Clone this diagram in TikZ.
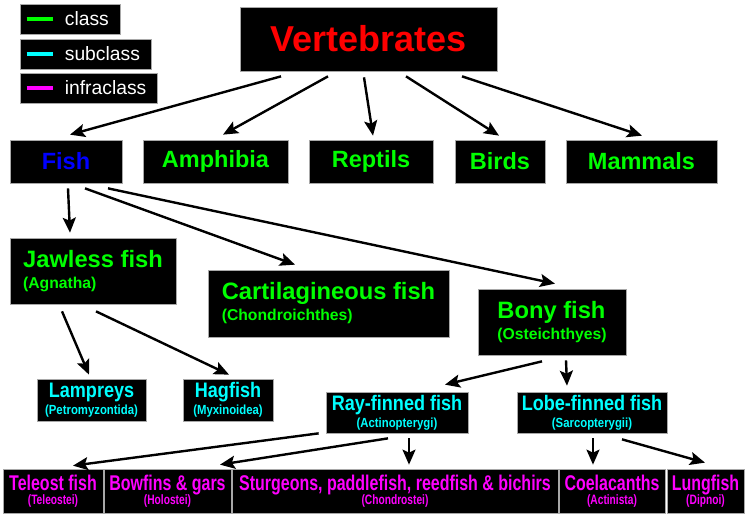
\documentclass[tikz,border=0pt]{standalone}
\usepackage{fontspec}
\setmainfont{Liberation Sans}
\newfontfamily\condA{Liberation Sans}[FakeStretch=0.86]
\newfontfamily\condB{Liberation Sans}[FakeStretch=0.75]
\usetikzlibrary{arrows.meta}
\definecolor{vertred}{HTML}{FF0000}
\definecolor{fishblue}{HTML}{0000FF}
\definecolor{classgreen}{HTML}{00FF00}
\definecolor{subcyan}{HTML}{00FFFF}
\definecolor{infrapink}{HTML}{FF00FF}
\definecolor{boxedge}{HTML}{A8A8A8}
\newcommand{\ordsci}{\fontsize{15.7}{21}\selectfont}
\newcommand{\subsci}{\fontsize{13.2}{17}\selectfont}
\newcommand{\infsci}{\fontsize{13.6}{14.5}\selectfont}

\begin{document}
\begin{tikzpicture}[x=1pt,y=-1pt,
  taxbox/.style={fill=black,draw=boxedge,line width=0.7pt,inner sep=0pt},
  rootbox/.style={taxbox,text=vertred,font=\bfseries\fontsize{36}{40}\selectfont,minimum height=64},
  classbox/.style={taxbox,text=classgreen,font=\bfseries\fontsize{23.5}{26}\selectfont,minimum height=43},
  ordbox/.style={taxbox,text=classgreen,align=left,font=\bfseries\fontsize{23.7}{21}\selectfont,minimum height=66},
  subbox/.style={taxbox,text=subcyan,align=center,font=\condA\bfseries\fontsize{21}{17}\selectfont,minimum height=42},
  infrabox/.style={taxbox,text=infrapink,align=center,font=\condB\bfseries\fontsize{21.3}{14.5}\selectfont,minimum height=44},
  legbox/.style={taxbox,minimum height=30},
  legtext/.style={text=white,font=\fontsize{19.3}{22}\selectfont,inner sep=0pt,anchor=west},
  swatch/.style={line width=4.5pt},
  edge/.style={-{Stealth[length=15pt,width=13pt,inset=3pt]},line width=2.4pt}
]
  \useasboundingbox (0,0) rectangle (747,514);

  \node[legbox,minimum width=100] (lclass) at (70,19) {};
  \node[legbox,minimum width=131] (lsub) at (85.5,54) {};
  \node[legbox,minimum width=137] (linfra) at (88.5,88) {};
  \draw[swatch,classgreen] ([xshift=7]lclass.west) -- ++(26,0);
  \draw[swatch,subcyan] ([xshift=7]lsub.west) -- ++(26,0);
  \draw[swatch,infrapink] ([xshift=7]linfra.west) -- ++(26,0);
  \node[legtext] (tclass) at ([xshift=45]lclass.west) {class};
  \node[legtext] (tsub) at ([xshift=45]lsub.west) {subclass};
  \node[legtext] (tinfra) at ([xshift=45]linfra.west) {infraclass};

  \node[rootbox,minimum width=257] (vert) at (368.5,39) {Vertebrates};

  \node[classbox,minimum width=112,text=fishblue] (fish) at (66,161.5) {Fish};
  \node[classbox,minimum width=145] (amph) at (215.5,161.5) {Amphibia};
  \node[classbox,minimum width=124] (rept) at (371,161.5) {Reptils};
  \node[classbox,minimum width=90] (birds) at (500,161.5) {Birds};
  \node[classbox,minimum width=151] (mamm) at (641.5,161.5) {Mammals};

  \node[ordbox,minimum width=166] (jaw) at (93,271) {Jawless fish\\\ordsci(Agnatha)};
  \node[ordbox,minimum width=241,minimum height=67] (cart) at (328.5,303.5)
    {Cartilagineous fish\\\ordsci(Chondroichthes)};
  \node[ordbox,minimum width=148] (bony) at (552,322) {Bony fish\\\ordsci(Osteichthyes)};

  \node[subbox,minimum width=109] (lamp) at (91.5,400) {Lampreys\\\subsci(Petromyzontida)};
  \node[subbox,minimum width=90] (hag) at (228,400) {Hagfish\\\subsci(Myxinoidea)};
  \node[subbox,minimum width=142,minimum height=41] (ray) at (397,412.5)
    {Ray-finned fish\\\subsci(Actinopterygi)};
  \node[subbox,minimum width=150,minimum height=41] (lobe) at (592,412.5)
    {Lobe-finned fish\\\subsci(Sarcopterygii)};

  \node[infrabox,minimum width=100] (tele) at (53,491) {Teleost fish\\\infsci(Teleostei)};
  \node[infrabox,minimum width=127] (bow) at (167.5,491) {Bowfins \& gars\\\infsci(Holostei)};
  \node[infrabox,minimum width=326] (sturg) at (395,491)
    {Sturgeons, paddlefish, reedfish \& bichirs\\\infsci(Chondrostei)};
  \node[infrabox,minimum width=106] (coel) at (612,491) {Coelacanths\\\infsci(Actinista)};
  \node[infrabox,minimum width=77] (lung) at (705.5,491) {Lungfish\\\infsci(Dipnoi)};

  \draw[edge] ([shift={(-87.5,5)}]vert.south) -- ([shift={(4,-5)}]fish.north);
  \draw[edge] ([shift={(-40.5,5)}]vert.south) -- ([shift={(7.5,-5)}]amph.north);
  \draw[edge] ([shift={(-4.5,6)}]vert.south) -- ([shift={(2,-4)}]rept.north);
  \draw[edge] ([shift={(37.5,5)}]vert.south) -- ([shift={(-1,-4)}]birds.north);
  \draw[edge] ([shift={(93.5,5)}]vert.south) -- ([shift={(0.5,-4)}]mamm.north);

  \draw[edge] ([shift={(2,5)}]fish.south) -- ([shift={(-23,-5)}]jaw.north);
  \draw[edge] ([shift={(19,5)}]fish.south) -- ([shift={(-33.5,-5)}]cart.north);
  \draw[edge] ([shift={(42,5)}]fish.south) -- ([shift={(3,-5)}]bony.north);

  \draw[edge] ([shift={(-31,7)}]jaw.south) -- ([shift={(-2.5,-4)}]lamp.north);
  \draw[edge] ([shift={(3,7)}]jaw.south) -- ([shift={(1,-4)}]hag.north);

  \draw[edge] ([shift={(-10,6)}]bony.south) -- ([shift={(48,-7)}]ray.north);
  \draw[edge] ([shift={(14,5)}]bony.south) -- ([shift={(-25,-6)}]lobe.north);

  \draw[edge] ([shift={(-7,0)}]ray.south west) -- ([shift={(20,-3)}]tele.north);
  \draw[edge] ([shift={(-9,5)}]ray.south) -- ([shift={(52.5,-4)}]bow.north);
  \draw[edge] ([shift={(12,5)}]ray.south) -- ([shift={(14,-4)}]sturg.north);
  \draw[edge] ([shift={(1,5)}]lobe.south) -- ([shift={(-19,-4)}]coel.north);
  \draw[edge] ([shift={(30,6)}]lobe.south) -- ([shift={(-0.5,-6)}]lung.north);
\end{tikzpicture}
\end{document}
